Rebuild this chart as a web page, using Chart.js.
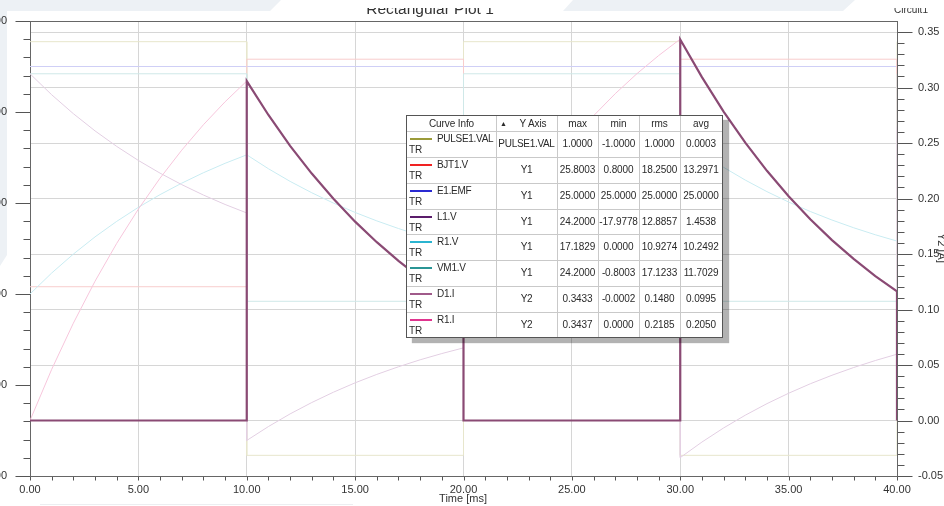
<!DOCTYPE html>
<html>
<head>
<meta charset="utf-8">
<script src="https://cdn.jsdelivr.net/npm/chart.js@4.4.1/dist/chart.umd.min.js"></script>
<style>
  html, body { margin: 0; padding: 0; width: 944px; height: 506px; overflow: hidden; background: #fff;
    font-family: Arial, "Liberation Sans", sans-serif; }
  .band { position: absolute; background: #edf1f5; }
  #bandA { left: 0; top: 0; width: 290px; height: 280px;
    clip-path: polygon(0 0, 281px 0, 270px 11px, 7px 11px, 7px 255px, 0 266px); }
  #bandB { left: 555px; top: 0; width: 310px; height: 12px;
    clip-path: polygon(18px 0, 300px 0, 288px 11px, 8px 11px); }
  #foot { position: absolute; left: 40px; top: 504px; width: 313px; height: 1px; background: #eceef1; }
  #wrap { position: absolute; left: -40px; top: -12px; width: 984px; height: 518px; }
  #info { position: absolute; left: 406px; top: 115px; width: 315px; height: 221px;
    border: 1px solid #555; background: #fff; box-shadow: 6px 5px 1px rgba(0,0,0,0.3);
    font-size: 10px; color: #2a2a2a; letter-spacing: -0.1px; }
  #info .ln { position: absolute; background: #c9c9c9; }
  #info .tx { position: absolute; height: 12px; line-height: 12px; white-space: nowrap; }
  #info .sw { position: absolute; height: 2px; }
</style>
</head>
<body>
<div class="band" id="bandA"></div>
<div class="band" id="bandB"></div>
<div id="foot"></div>
<div id="wrap"><canvas id="plot" width="984" height="518"></canvas></div>
<div id="info"></div>
<script>
// ---- time bases [ms] ----
const tStep = [0, 10, 10, 20, 20, 30, 30, 40, 40];
const tCurve = [0, 1, 2, 3, 4, 5, 6, 7, 8, 9, 10, 11, 12, 13, 14, 15, 16, 17, 18, 19, 20,
                21, 22, 23, 24, 25, 26, 27, 28, 29, 30, 31, 32, 33, 34, 35, 36, 37, 38, 39, 40];
const tJump = [0, 1, 2, 3, 4, 5, 6, 7, 8, 9, 10,
               10, 11, 12, 13, 14, 15, 16, 17, 18, 19, 20,
               20, 21, 22, 23, 24, 25, 26, 27, 28, 29, 30,
               30, 31, 32, 33, 34, 35, 36, 37, 38, 39, 40,
               40];
const tEmf = [0, 40];

// ---- traces ----
const pulseVal = [1, 1, -1, -1, 1, 1, -1, -1, 1];
const bjtV = [0.8, 0.8, 25.8003, 25.8003, 0.8, 0.8, 25.8003, 25.8003, 0.8];
const emfV = [25, 25];
const vm1V = [24.2, 24.2, -0.8003, -0.8003, 24.2, 24.2, -0.8003, -0.8003, 24.2];
const r1I = [0, 0.0461, 0.0877, 0.1255, 0.1596, 0.1905, 0.2184, 0.2436, 0.2665, 0.2872, 0.3059,
             0.2753, 0.2475, 0.2225, 0.1998, 0.1792, 0.1607, 0.1439, 0.1286, 0.1149, 0.1024,
             0.1387, 0.1716, 0.2013, 0.2282, 0.2526, 0.2746, 0.2945, 0.3125, 0.3288, 0.3437,
             0.3094, 0.2784, 0.2504, 0.2250, 0.2021, 0.1813, 0.1626, 0.1456, 0.1302, 0.1163];
const r1V = [0, 2.305, 4.385, 6.275, 7.98, 9.525, 10.92, 12.18, 13.325, 14.36, 15.295,
             13.765, 12.375, 11.125, 9.99, 8.96, 8.035, 7.195, 6.43, 5.745, 5.12,
             6.935, 8.58, 10.065, 11.41, 12.63, 13.73, 14.725, 15.625, 16.44, 17.1829,
             15.47, 13.92, 12.52, 11.25, 10.105, 9.065, 8.13, 7.28, 6.51, 5.815];
const l1V = [24.2, 21.895, 19.815, 17.925, 16.22, 14.675, 13.28, 12.02, 10.875, 9.84, 8.905,
             -16.095, -14.565, -13.175, -11.925, -10.79, -9.76, -8.835, -7.995, -7.23, -6.545, -5.92,
             19.08, 17.265, 15.62, 14.135, 12.79, 11.57, 10.47, 9.475, 8.575, 7.76, 7.02,
             -17.9778, -16.27, -14.72, -13.32, -12.05, -10.905, -9.865, -8.93, -8.08, -7.31, -6.615,
             18.385];
const d1I = [0, 0, 0, 0, 0, 0, 0, 0, 0, 0, 0,
             0.3059, 0.2753, 0.2475, 0.2225, 0.1998, 0.1792, 0.1607, 0.1439, 0.1286, 0.1149, 0.1024,
             0, 0, 0, 0, 0, 0, 0, 0, 0, 0, 0,
             0.3433, 0.3094, 0.2784, 0.2504, 0.2250, 0.2021, 0.1813, 0.1626, 0.1456, 0.1302, 0.1163,
             0];

// ---- axis ticks ----
const xTicks = [0, 5, 10, 15, 20, 25, 30, 35, 40];
const y1Ticks = [-20, -10, 0, 10, 20, 30];
const y2Ticks = [-0.05, 0, 0.05, 0.10, 0.15, 0.20, 0.25, 0.30, 0.35];

// ---- curve info table ----
const curveNames = ['PULSE1.VAL', 'BJT1.V', 'E1.EMF', 'L1.V', 'R1.V', 'VM1.V', 'D1.I', 'R1.I'];
const curveAxis = ['PULSE1.VAL', 'Y1', 'Y1', 'Y1', 'Y1', 'Y1', 'Y2', 'Y2'];
const curveMax = ['1.0000', '25.8003', '25.0000', '24.2000', '17.1829', '24.2000', '0.3433', '0.3437'];
const curveMin = ['-1.0000', '0.8000', '25.0000', '-17.9778', '0.0000', '-0.8003', '-0.0002', '0.0000'];
const curveRms = ['1.0000', '18.2500', '25.0000', '12.8857', '10.9274', '17.1233', '0.1480', '0.2185'];
const curveAvg = ['0.0003', '13.2971', '25.0000', '1.4538', '10.2492', '11.7029', '0.0995', '0.2050'];
const curveColors = ['#9b9b3a', '#f02222', '#2a2ad2', '#5b1d6b', '#2ab4d0', '#2a9595', '#a05a8a', '#e0358f'];

const FONT = 'Arial, "Liberation Sans", sans-serif';
const pts = (xs, ys) => xs.map((x, i) => ({ x, y: ys[i] }));

function trace(data, axis, color, width, order) {
  return { data, yAxisID: axis, borderColor: color, borderWidth: width, order,
           pointRadius: 0, fill: false, tension: 0 };
}

const datasets = [
  trace(pts(tJump, d1I), 'y2', '#8a4a74', 2.2, 0),
  trace(pts(tCurve, r1I), 'y2', '#f7c6dc', 1, 1),
  trace(pts(tJump, l1V), 'y1', '#e3cfe3', 1, 2),
  trace(pts(tCurve, r1V), 'y1', '#c9ecf2', 1, 3),
  trace(pts(tStep, vm1V), 'y1', '#cfe8e8', 1, 4),
  trace(pts(tStep, bjtV), 'y1', '#f8cdcd', 1, 5),
  trace(pts(tEmf, emfV), 'y1', '#cfcff6', 1, 6),
  trace(pts(tStep, pulseVal), 'yP', '#e7e6cc', 1, 7)
];

const tickFont = { family: FONT, size: 11 };

// axis frame, minor/major tick marks and free-standing texts
const frame = {
  id: 'frame',
  beforeDatasetsDraw(chart) {
    const { ctx, chartArea: a, scales } = chart;
    const L = Math.round(a.left) + 0.5, R = Math.round(a.right) + 0.5;
    const T = Math.round(a.top) + 0.5, B = Math.round(a.bottom) + 0.5;
    ctx.save();
    ctx.strokeStyle = '#555';
    ctx.lineWidth = 1;
    ctx.beginPath();
    for (let v = 0; v <= 40; v += 1) {
      const px = Math.round(scales.x.getPixelForValue(v)) + 0.5;
      ctx.moveTo(px, B); ctx.lineTo(px, B + 4);
    }
    for (let v = -20; v <= 30; v += 2) {
      const py = Math.round(scales.y1.getPixelForValue(v)) + 0.5;
      const len = v % 10 === 0 ? 15 : 7;
      ctx.moveTo(L - len, py); ctx.lineTo(L, py);
    }
    for (let i = -5; i <= 35; i += 1) {
      const py = Math.round(scales.y2.getPixelForValue(i / 100)) + 0.5;
      const len = i % 5 === 0 ? 15 : 7;
      ctx.moveTo(R, py); ctx.lineTo(R + len, py);
    }
    ctx.stroke();
    ctx.strokeStyle = '#666';
    ctx.strokeRect(L, T, R - L, B - T);
    ctx.restore();
  },
  afterDraw(chart) {
    const { ctx, width, height } = chart;
    ctx.save();
    ctx.fillStyle = '#333';
    ctx.textAlign = 'center';
    ctx.textBaseline = 'alphabetic';
    // header texts sit under the window's top edge
    ctx.save();
    ctx.beginPath();
    ctx.rect(0, 20, width, height);
    ctx.clip();
    ctx.font = '15.5px ' + FONT;
    ctx.fillText('Rectangular Plot 1', 470, 25.5);
    ctx.font = '10px ' + FONT;
    ctx.fillText('Circuit1', 951, 24.5);
    ctx.restore();
    ctx.textBaseline = 'middle';
    ctx.font = '11px ' + FONT;
    ctx.fillText('Time [ms]', 503, 511);
    ctx.translate(981, 260);
    ctx.rotate(Math.PI / 2);
    ctx.fillText('Y2 [A]', 0, 0);
    ctx.restore();
  }
};

new Chart(document.getElementById('plot'), {
  type: 'line',
  data: { datasets },
  plugins: [frame],
  options: {
    responsive: false,
    animation: false,
    devicePixelRatio: 1,
    layout: { padding: { top: 33, left: 0, right: 0, bottom: 0 } },
    plugins: { legend: { display: false }, tooltip: { enabled: false }, title: { display: false } },
    scales: {
      x: {
        type: 'linear', position: 'bottom', min: 0, max: 40,
        afterFit(s) { s.height = 30; },
        afterBuildTicks(s) { s.ticks = xTicks.map(v => ({ value: v })); },
        grid: { color: '#d6d6d6', drawTicks: false },
        border: { display: false },
        ticks: { padding: 7, maxRotation: 0, autoSkip: false, color: '#333', font: tickFont,
                 callback: v => v.toFixed(2) }
      },
      y1: {
        type: 'linear', position: 'left', min: -20, max: 30,
        afterFit(s) { s.width = 70; },
        afterBuildTicks(s) { s.ticks = y1Ticks.map(v => ({ value: v })); },
        grid: { display: false, drawTicks: false },
        border: { display: false },
        ticks: { padding: 23, color: '#333', font: tickFont, callback: v => v.toFixed(2) }
      },
      y2: {
        type: 'linear', position: 'right', min: -0.05, max: 0.36,
        afterFit(s) { s.width = 47; },
        afterBuildTicks(s) { s.ticks = y2Ticks.map(v => ({ value: v })); },
        grid: { color: '#d6d6d6', drawTicks: false },
        border: { display: false },
        ticks: { padding: 21, color: '#333', font: tickFont, callback: v => v.toFixed(2) }
      },
      yP: { type: 'linear', display: false, min: -1.1, max: 1.1 }
    }
  }
});

// ---- curve info table ----
(function buildTable() {
  const box = document.getElementById('info');
  const colX = [0, 89, 150, 191, 232, 273, 315];
  const rowY = [0, 15, 41, 67, 93, 118, 144, 170, 196, 221];
  const add = (cls, css, text) => {
    const d = document.createElement('div');
    d.className = cls;
    Object.assign(d.style, css);
    if (text !== undefined) d.textContent = text;
    box.appendChild(d);
    return d;
  };
  colX.slice(1, -1).forEach(x => add('ln', { left: x + 'px', top: '0px', width: '1px', height: '221px' }));
  rowY.slice(1, -1).forEach(y => add('ln', { left: '0px', top: y + 'px', width: '315px', height: '1px' }));
  const center = (text, c0, c1, cy) =>
    add('tx', { left: c0 + 'px', width: (c1 - c0) + 'px', top: (cy - 6) + 'px', textAlign: 'center' }, text);

  center('Curve Info', colX[0], colX[1], 7.5);
  add('tx', { left: '93px', top: '1.5px', fontSize: '7px' }, '\u25B2');
  center('Y Axis', 104, 148, 7.5);
  ['max', 'min', 'rms', 'avg'].forEach((h, i) => center(h, colX[i + 2], colX[i + 3], 7.5));

  curveNames.forEach((name, r) => {
    const top = rowY[r + 1];
    add('sw', { left: '3px', top: (top + 7) + 'px', width: '22px', background: curveColors[r] });
    add('tx', { left: '30px', top: (top + 2) + 'px', letterSpacing: '-0.3px' }, name);
    add('tx', { left: '2px', top: (top + 13) + 'px' }, 'TR');
    const cy = top + 13;
    center(curveAxis[r], colX[1], colX[2], cy).style.letterSpacing = '-0.3px';
    center(curveMax[r], colX[2], colX[3], cy);
    center(curveMin[r], colX[3], colX[4], cy);
    center(curveRms[r], colX[4], colX[5], cy);
    center(curveAvg[r], colX[5], colX[6], cy);
  });
})();
</script>
</body>
</html>
